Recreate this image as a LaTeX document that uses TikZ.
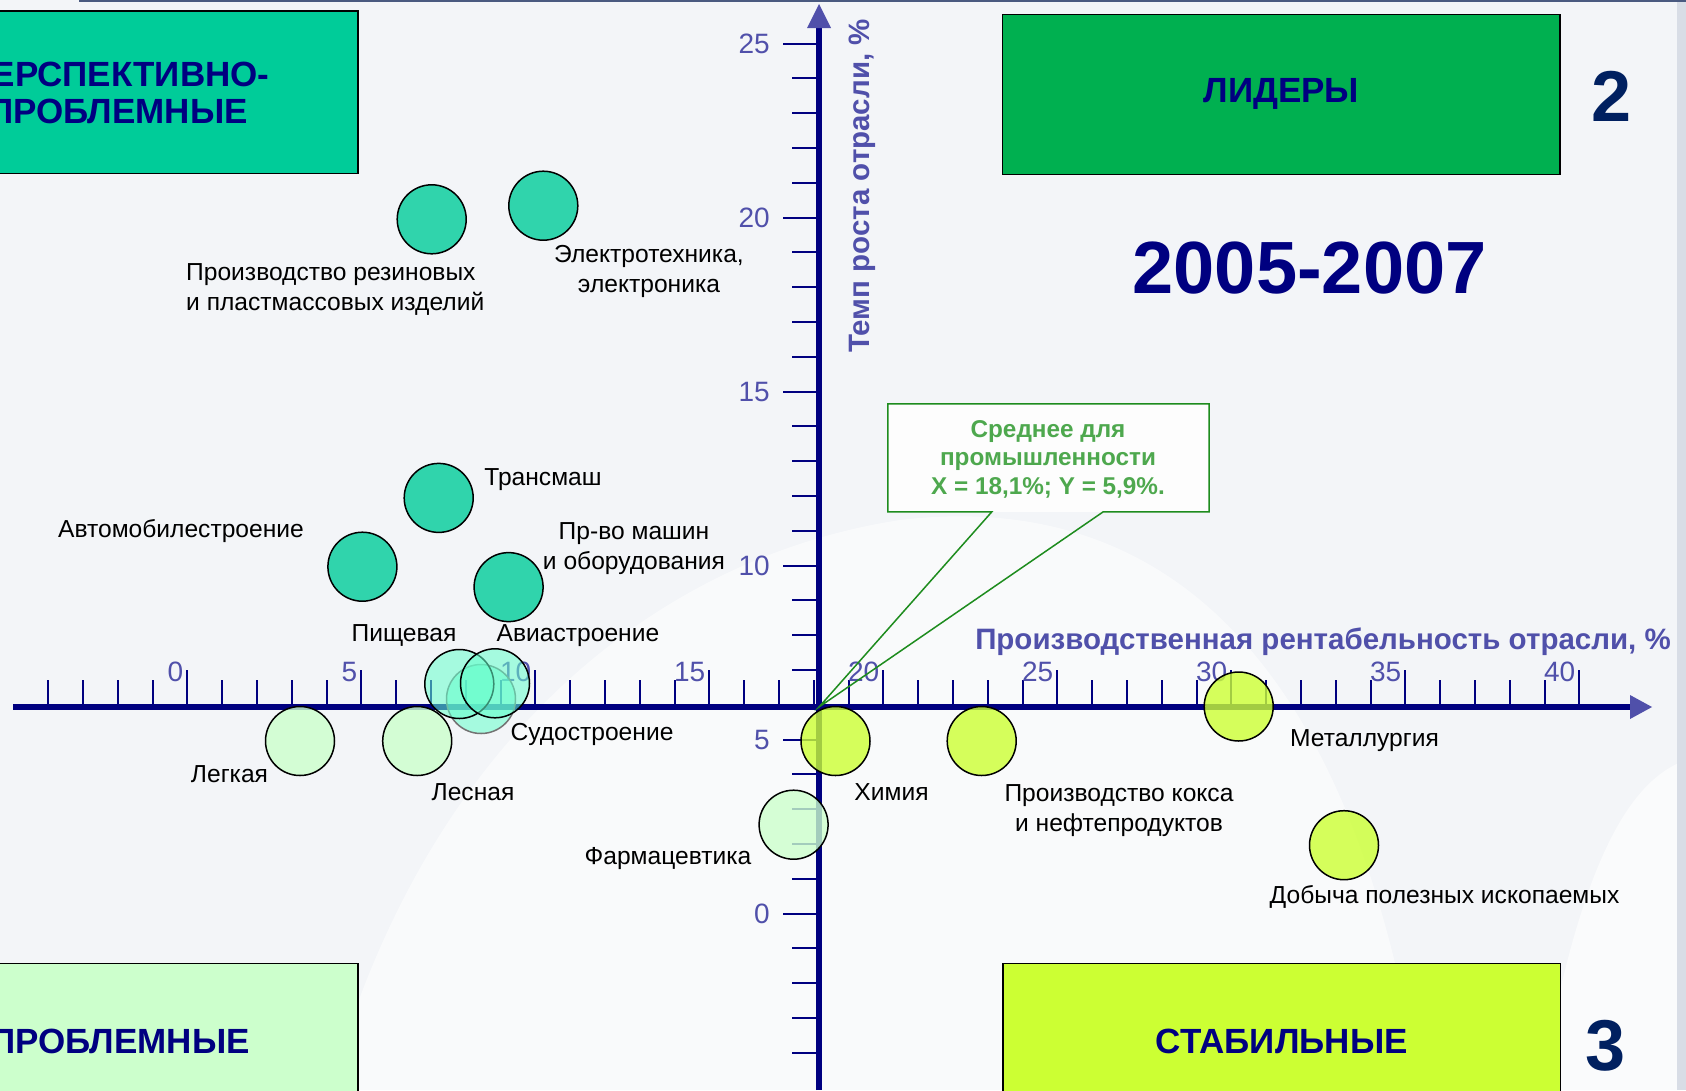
\documentclass[tikz,border=0pt]{standalone}
\usepackage{fontspec}
\setmainfont{Liberation Sans}
\definecolor{bg}{HTML}{F3F5F8}
\definecolor{navy}{HTML}{000080}
\definecolor{axlab}{HTML}{5050AA}
\definecolor{tealbox}{HTML}{00CC99}
\definecolor{leadbox}{HTML}{00B050}
\definecolor{probbox}{HTML}{CCFFCC}
\definecolor{stabbox}{HTML}{CCFF33}
\definecolor{aqua}{HTML}{66FFCC}
\definecolor{numcol}{HTML}{002060}
\definecolor{callgreen}{HTML}{4EA84E}
\definecolor{callborder}{HTML}{1E8C1E}
\definecolor{topline}{HTML}{4A5A80}
\definecolor{edge}{HTML}{D8DDE6}
\tikzset{
  lbl/.style={font=\fontsize{24.6}{30}\selectfont, text=black, inner sep=0pt, align=center},
  bubble/.style={circle, draw=black, line width=1.5pt, minimum size=69pt, inner sep=0pt},
  tealb/.style={bubble, fill=tealbox, fill opacity=0.8},
  aquab/.style={bubble, fill=aqua, fill opacity=0.55},
  lightb/.style={bubble, fill=probbox, fill opacity=0.8},
  yellb/.style={bubble, fill=stabbox, fill opacity=0.8},
  quadbox/.style={draw=black, line width=1.5pt, inner sep=0pt},
  quadtxt/.style={font=\bfseries\fontsize{35}{37}\selectfont, text=navy, align=center, inner sep=0pt},
  ticklbl/.style={font=\fontsize{28}{32}\selectfont, text=axlab, inner sep=0pt},
  tickln/.style={draw=navy, line width=2pt},
  axis/.style={draw=navy, line width=6pt},
  axtitle/.style={font=\bfseries\fontsize{29.5}{34}\selectfont, text=axlab, inner sep=0pt},
  bignum/.style={font=\bfseries\fontsize{72}{80}\selectfont, text=numcol, inner sep=0pt},
}
\begin{document}
\begin{tikzpicture}[x=1pt,y=-1pt]
\useasboundingbox (0,0) rectangle (1686,1090);
\clip (0,0) rectangle (1686,1090);
% background
\fill[bg] (0,0) rectangle (1686,1090);
\fill[white, opacity=0.55] (330,1090) .. controls (420,760) and (640,560) .. (900,520) .. controls (1150,490) and (1350,640) .. (1420,1090) -- cycle;
\fill[white, opacity=0.6] (1540,1090) .. controls (1580,860) and (1630,780) .. (1686,760) -- (1686,1090) -- cycle;
\fill[edge] (1677,0) rectangle (1686,1090);
\draw[topline, line width=2pt] (79,1) -- (1686,1);
% quadrant boxes
\node[quadbox, fill=tealbox, minimum width=478pt, minimum height=162.3pt] (qpp) at (118.9,92.2) {};
\node[quadtxt] (qpptxt) at (118,93.4) {ПЕРСПЕКТИВНО-\\ПРОБЛЕМНЫЕ};
\node[quadbox, fill=leadbox, minimum width=557.6pt, minimum height=160.4pt] (qlead) at (1281.2,94.5) {};
\node[quadtxt] (qleadtxt) at (1281.4,94.3) {ЛИДЕРЫ};
\node[quadbox, fill=probbox, minimum width=478pt, minimum height=157pt] (qprob) at (118.9,1041.8) {};
\node[quadtxt] (qprobtxt) at (120,1041.7) {ПРОБЛЕМНЫЕ};
\node[quadbox, fill=stabbox, minimum width=557.5pt, minimum height=157pt] (qstab) at (1281.8,1041.8) {};
\node[quadtxt] (qstabtxt) at (1281.8,1041.7) {СТАБИЛЬНЫЕ};
\node[bignum] (n2) at (1611,96) {2};
\node[bignum] (n3) at (1605.7,1045.8) {3};
\node[font=\bfseries\fontsize{74}{80}\selectfont, text=navy, inner sep=0pt] (years) at (1309.6,268) {2005-2007};
% ticks
\foreach \v in {-4,...,25} {\draw[tickln] (819,{913.5-34.8*\v}) -- (792,{913.5-34.8*\v});}
\foreach \v in {0,5,...,25} {
  \draw[tickln] (819,{913.5-34.8*\v}) -- (783,{913.5-34.8*\v});
  \node[ticklbl, anchor=east] (yl\v) at (770,{913.5-34.8*\v}) {\v};
}
\foreach \v in {-4,...,40} {\draw[tickln] ({187.4+34.8*\v},707) -- ({187.4+34.8*\v},680);}
\foreach \v in {0,5,...,40} {
  \draw[tickln] ({187.4+34.8*\v},707) -- ({187.4+34.8*\v},670);
  \node[ticklbl, anchor=east] (xl\v) at ({187.4+34.8*\v-4},672) {\v};
}
% axes
\coordinate (O) at (819,707);
\coordinate (xend) at (1632,707);
\coordinate (yend) at (819,26);
\draw[axis] (13,707) -- (xend);
\fill[axlab] (1652,707) -- (1630,695) -- (1630,719) -- cycle;
\draw[axis] (819,1090) -- (yend);
\fill[axlab] (819,4) -- (807,28) -- (831,28) -- cycle;
\node[axtitle] (xt) at (1323,642) {Производственная рентабельность отрасли, \%};
\node[axtitle, rotate=90] (yt) at (862,186) {Темп роста отрасли, \%};
% callout
\node[fill=white, fill opacity=0.85, minimum width=321pt, minimum height=107.7pt, inner sep=0pt] (avg) at (1048.5,457.9) {};
\node[font=\bfseries\fontsize{24.3}{28.5}\selectfont, text=callgreen, align=center, inner sep=0pt] (avgtxt) at (1048,459) {Среднее для\\промышленности\\X = 18,1\%; Y = 5,9\%.};
\draw[callborder, line width=1.5pt] ([xshift=-56.8pt]avg.south) -- (avg.south west) -- (avg.north west) -- (avg.north east) -- (avg.south east) -- ([xshift=54.5pt]avg.south) -- (O) -- cycle;
% bubbles
\node[tealb] (rez) at (431.7,219.3) {};
\node[tealb] (el) at (543.3,205.7) {};
\node[tealb] (trans) at (438.7,497.9) {};
\node[tealb] (auto) at (362.4,566.7) {};
\node[tealb] (mash) at (508.6,587.1) {};
\node[aquab, draw=black!55] (sud) at (481,699) {};
\node[aquab] (pisch) at (459.3,684) {};
\node[aquab] (avia) at (495,683.3) {};
\node[lightb] (legk) at (300,741) {};
\node[lightb] (les) at (417.2,741) {};
\node[lightb] (farm) at (793.6,824.7) {};
\node[yellb] (chem) at (835.5,741) {};
\node[yellb] (koks) at (981.7,741) {};
\node[yellb] (met) at (1238.7,706.5) {};
\node[yellb] (dob) at (1344,845.2) {};
% labels
\node[lbl, align=left, anchor=west] (lrez) at (186,289) {Производство резиновых\\и пластмассовых изделий};
\node[lbl] (lel) at (649,271.5) {Электротехника,\\электроника};
\node[lbl] (ltrans) at (543,479.6) {Трансмаш};
\node[lbl] (lauto) at (181,531) {Автомобилестроение};
\node[lbl] (lmash) at (634,549) {Пр-во машин\\и оборудования};
\node[lbl] (lpisch) at (404,635.5) {Пищевая};
\node[lbl] (lavia) at (578,635.5) {Авиастроение};
\node[lbl] (lsud) at (592,734.4) {Судостроение};
\node[lbl] (llegk) at (229.5,774) {Легкая};
\node[lbl] (lles) at (473,792.5) {Лесная};
\node[lbl] (lfarm) at (668,859) {Фармацевтика};
\node[lbl] (lchem) at (891.5,792.5) {Химия};
\node[lbl] (lkoks) at (1119,811) {Производство кокса\\и нефтепродуктов};
\node[lbl] (lmet) at (1364.5,741) {Металлургия};
\node[lbl] (ldob) at (1444.5,896.8) {Добыча полезных ископаемых};
\end{tikzpicture}
\end{document}
